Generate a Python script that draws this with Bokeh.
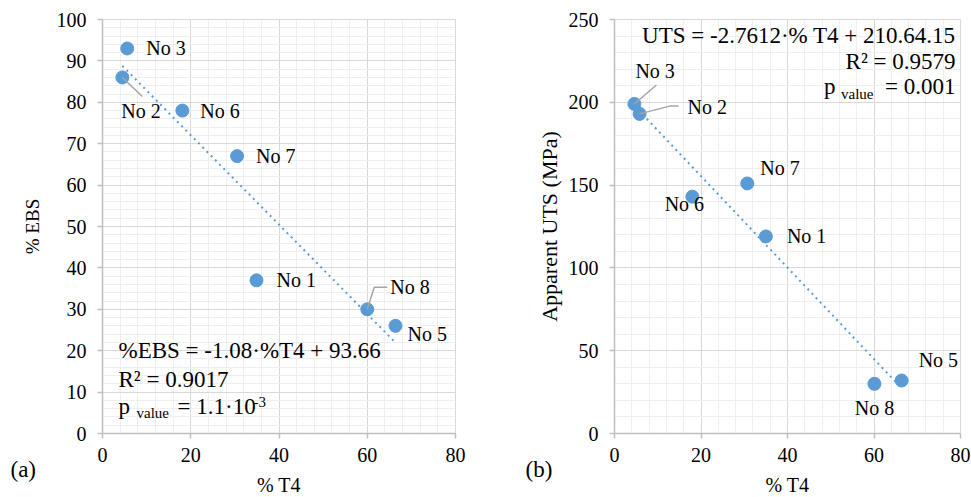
from bokeh.plotting import figure
from bokeh.layouts import row
from bokeh.models import Label, SingleIntervalTicker, Range1d, Title
from bokeh.embed import file_html
from bokeh.resources import INLINE

# ---------------- data ----------------
samples = ["No 1", "No 2", "No 3", "No 5", "No 6", "No 7", "No 8"]

t4_a = [34.9, 4.5, 5.6, 66.4, 18.1, 30.5, 60.0]     # % T4 (panel a)
ebs = [37, 86, 93, 26, 78, 67, 30]                   # % EBS

t4_b = [35.0, 5.8, 4.6, 66.4, 18.0, 30.7, 60.1]     # % T4 (panel b)
uts = [119, 193, 199, 32, 143, 151, 30]              # Apparent UTS (MPa)

ebs_fit = (-1.08, 93.66)
uts_fit = (-2.7612, 210.64)

x_ticks = [0, 20, 40, 60, 80]
ebs_ticks = [0, 10, 20, 30, 40, 50, 60, 70, 80, 90, 100]
uts_ticks = [0, 50, 100, 150, 200, 250]

eq_a = ["%EBS = -1.08·%T4 + 93.66", "R² = 0.9017", "p", "value", "= 1.1·10", "-3"]
eq_b = ["UTS = -2.7612·% T4 + 210.64.15", "R² = 0.9579", "p", "value", "= 0.001"]

# ---------------- style ----------------
FONT = "Liberation Serif"
BLUE = "#5B9BD5"
LEAD = "#A5A5A5"


def base_panel(width, height, bl, br, bt, bb, ymax, ystep, ylabel, ylabel_size,
               ylabel_standoff, xlabel_standoff):
    p = figure(width=width, height=height, x_range=Range1d(0, 80), y_range=Range1d(0, ymax),
               output_backend="svg", toolbar_location=None,
               min_border_left=bl, min_border_right=br, min_border_top=bt, min_border_bottom=bb)
    p.outline_line_color = "#D9D9D9"
    p.background_fill_color = "white"
    p.border_fill_color = "white"
    p.xaxis.ticker = SingleIntervalTicker(interval=20, num_minor_ticks=5)
    p.yaxis.ticker = SingleIntervalTicker(interval=ystep, num_minor_ticks=5)
    for ax in (p.xaxis[0], p.yaxis[0]):
        ax.axis_line_color = "#BFBFBF"
        ax.axis_line_width = 1.5
        ax.major_tick_line_color = "#BFBFBF"
        ax.major_tick_line_width = 1.5
        ax.major_tick_out = 5
        ax.major_tick_in = 0
        ax.minor_tick_line_color = None
        ax.major_label_text_font = FONT
        ax.major_label_text_font_size = "20px"
        ax.major_label_text_color = "black"
        ax.axis_label_text_font = FONT
        ax.axis_label_text_font_style = "normal"
        ax.axis_label_text_color = "black"
    p.xaxis.major_label_standoff = xlabel_standoff
    p.yaxis.axis_label = ylabel
    p.yaxis.axis_label_text_font_size = ylabel_size
    p.yaxis.major_label_standoff = 11
    p.yaxis.axis_label_standoff = ylabel_standoff
    p.grid.grid_line_color = "#D9D9D9"
    p.grid.minor_grid_line_color = "#EFEFEF"
    return p


def add_bottom_titles(p, tag, tag_offset, tag_standoff, xlabel_standoff):
    p.add_layout(Title(text=tag, align="left", offset=tag_offset, standoff=tag_standoff,
                       vertical_align="top", text_font=FONT, text_font_size="23px",
                       text_font_style="normal", text_color="black"), "below")
    p.add_layout(Title(text="% T4", align="center", standoff=xlabel_standoff,
                       text_font=FONT, text_font_size="20px",
                       text_font_style="normal", text_color="black"), "below")


def add_points(p, xs, ys, fit, label_offsets, leaders, px_x, px_y):
    a, b = fit
    xl = [min(xs), max(xs)]
    p.line(xl, [a * v + b for v in xl], line_color=BLUE, line_width=2, line_dash="2 4")
    p.scatter(xs, ys, size=13, color=BLUE)
    for name, x, y in zip(samples, xs, ys):
        dx, dy, align = label_offsets[name]
        p.add_layout(Label(x=x, y=y, text=name, x_offset=dx, y_offset=dy,
                           text_font=FONT, text_font_size="20px", text_color="black",
                           text_align=align, text_baseline="middle"))
        if name in leaders:
            pts = [(0, 0)] + leaders[name]
            p.line([x + u / px_x for u, v in pts], [y + v / px_y for u, v in pts],
                   line_color=LEAD, line_width=1.5)


def lab(p, x, y, text, size="23px", align="left"):
    p.add_layout(Label(x=x, y=y, x_units="screen", y_units="screen", text=text,
                       text_font=FONT, text_font_size=size, text_color="black",
                       text_align=align, text_baseline="middle"))


H = 497

# ---------------- panel (a) ----------------
WA, BLA, BTA = 490, 102, 19
FWA, FHA = 353, 414
pa = base_panel(WA, H, BLA, WA - BLA - FWA, BTA, H - BTA - FHA, 100, 10, "% EBS", "19px", 11, 9)
add_bottom_titles(pa, "(a)", -92, -15, -9)
off_a = {"No 1": (20, 0, "left"), "No 2": (-1, -34, "left"), "No 3": (19, 0, "left"),
         "No 5": (12, -8, "left"), "No 6": (18, 0, "left"), "No 7": (19, 0, "left"),
         "No 8": (23, 22, "left")}
lead_a = {"No 2": [(20, -19)], "No 8": [(7, 22), (20, 22)]}
add_points(pa, t4_a, ebs, ebs_fit, off_a, lead_a, FWA / 80, FHA / 100)
lab(pa, 16, 83, eq_a[0])
lab(pa, 16, 54.5, eq_a[1])
lab(pa, 16, 27.5, eq_a[2])
lab(pa, 34, 20.5, eq_a[3], "15px")
lab(pa, 75, 27.5, eq_a[4])
lab(pa, 151, 31.5, eq_a[5], "15px")

# ---------------- panel (b) ----------------
WB, BLB, BTB = 480, 124, 19
FWB, FHB = 346, 414
pb = base_panel(WB, H, BLB, WB - BLB - FWB, BTB, H - BTB - FHB, 250, 50, "Apparent UTS (MPa)", "22px", 4, 9)
add_bottom_titles(pb, "(b)", -89, -15, -9)
off_b = {"No 1": (21, 0, "left"), "No 2": (48, 7, "left"), "No 3": (1, 33, "left"),
         "No 5": (17, 21, "left"), "No 6": (-8, -7, "center"), "No 7": (13, 15, "left"),
         "No 8": (0, -24, "center")}
lead_b = {"No 3": [(22, 19)], "No 2": [(31, 8), (39, 8)]}
add_points(pb, t4_b, uts, uts_fit, off_b, lead_b, FWB / 80, FHB / 250)
lab(pb, 341, 398, eq_b[0], align="right")
lab(pb, 341, 372, eq_b[1], align="right")
lab(pb, 221, 347, eq_b[2], align="right")
lab(pb, 259, 340, eq_b[3], "15px", align="right")
lab(pb, 341, 347, eq_b[4], align="right")

layout = row(pa, pb)
open("out.html", "w").write(file_html(layout, INLINE))
